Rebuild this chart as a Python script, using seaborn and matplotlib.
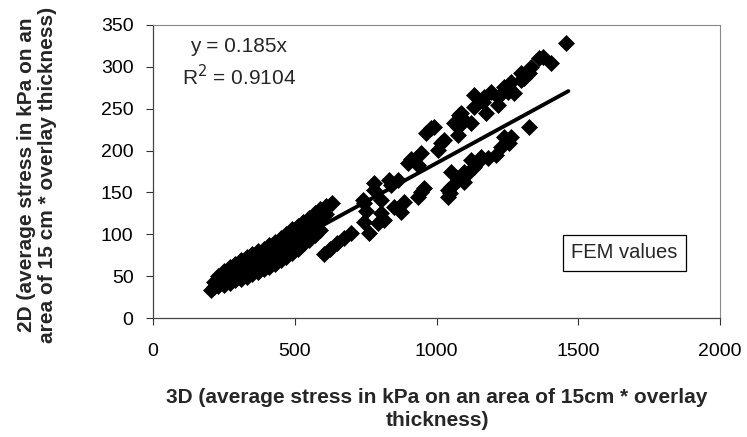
import matplotlib
matplotlib.use("Agg")
import matplotlib.pyplot as plt
import numpy as np
import pandas as pd
import seaborn as sns

# ---- data ----
cluster_x = [205, 215, 215, 230, 230, 230, 250, 250, 250, 270, 270, 270,
             290, 290, 290, 310, 310, 310, 330, 330, 330, 350, 350, 350,
             370, 370, 370, 390, 390, 390, 410, 410, 410, 430, 430, 430,
             450, 450, 450, 470, 470, 470, 490, 490, 490, 510, 510, 510,
             530, 530, 530, 550, 550, 550, 570, 570, 570, 590, 590, 590,
             610, 610, 630]
cluster_y = [34, 37, 43, 38, 45, 50, 40, 48, 56, 42, 52, 61,
             45, 55, 65, 47, 58, 69, 49, 61, 73, 52, 64, 77,
             55, 67, 80, 58, 71, 83, 61, 74, 87, 65, 78, 91,
             69, 82, 95, 73, 87, 100, 78, 92, 106, 83, 97, 110,
             88, 101, 115, 93, 106, 120, 99, 112, 125, 105, 118, 130,
             124, 134, 137]

upper_x = [740, 743, 750, 779, 804, 832, 839, 864, 899, 910, 935, 945, 963, 981,
           991, 1005, 1016, 1027, 1062, 1080, 1076, 1076, 1087, 1097, 1122, 1133,
           1133, 1165, 1168, 1175, 1193, 1218, 1218, 1239, 1253, 1264, 1274, 1299,
           1299, 1310, 1327, 1334, 1363, 1374, 1405, 1458]
upper_y = [141, 137, 128, 161, 141, 165, 159, 165, 185, 190, 183, 197, 221, 227,
           228, 201, 209, 213, 233, 242, 219, 228, 245, 236, 233, 252,
           266, 258, 264, 245, 270, 254, 264, 276, 270, 282, 269, 284,
           293, 287, 293, 300, 311, 312, 305, 328]

lower_x = [602, 625, 648, 672, 697, 743, 761, 779, 793, 814, 804, 850, 874, 885,
           935, 945, 956, 1041, 1048, 1041, 1051, 1051, 1076, 1097, 1097, 1111,
           1122, 1133, 1147, 1158, 1182, 1211, 1228, 1257, 1264, 1239, 1327]
lower_y = [76, 83, 89, 95, 102, 115, 101, 153, 113, 117, 125, 133, 127, 139,
           145, 151, 155, 145, 149, 153, 156, 174, 165, 162, 174, 173,
           189, 180, 186, 192, 191, 195, 204, 209, 216, 216, 228]

trend_slope = 0.185
trend_r2 = 0.9104
trend_x = [200, 1465]

x_ticks = [0, 500, 1000, 1500, 2000]
y_ticks = [0, 50, 100, 150, 200, 250, 300, 350]

xlabel = "3D (average stress in kPa on an area of 15cm * overlay\nthickness)"
ylabel = "2D (average stress in kPa on an\narea of 15 cm * overlay thickness)"
legend_label = "FEM values"

# ---- figure ----
sns.set_theme(style="white")
plt.rcParams["font.family"] = ["Liberation Sans", "DejaVu Sans"]

fig = plt.figure(figsize=(7.47, 4.37), dpi=100)
ax = fig.add_axes([0.2048, 0.2723, 0.9639 - 0.2048, 0.9428 - 0.2723])

pts = pd.DataFrame({
    "x": cluster_x + upper_x + lower_x,
    "y": cluster_y + upper_y + lower_y,
})
sns.scatterplot(data=pts, x="x", y="y", marker="D", s=66, color="black",
                edgecolor="black", linewidth=0.5, ax=ax, zorder=3, legend=False)

trend = pd.DataFrame({"x": trend_x, "y": [trend_slope * v for v in trend_x]})
sns.lineplot(data=trend, x="x", y="y", color="black", linewidth=2.8, ax=ax,
             zorder=4, solid_capstyle="round")

ax.set_xlim(0, 2000)
ax.set_ylim(0, 350)
ax.set_xticks(x_ticks)
ax.set_yticks(y_ticks)
ax.tick_params(axis="both", which="both", direction="out", length=5, width=0.8,
               color="#333333", labelsize=14, labelcolor="black")
ax.tick_params(axis="x", pad=13, bottom=True)
ax.tick_params(axis="y", pad=9, left=True)

for side in ["left", "bottom"]:
    ax.spines[side].set_color("#444444")
    ax.spines[side].set_linewidth(0.9)
for side in ["top", "right"]:
    ax.spines[side].set_color("#888888")
    ax.spines[side].set_linewidth(0.8)

ax.set_xlabel(xlabel, fontsize=15, fontweight="bold", linespacing=1.3,
              va="center")
ax.xaxis.set_label_coords(0.501, -0.31)
ax.set_ylabel(ylabel, fontsize=15, fontweight="bold", linespacing=1.15,
              va="center")
ax.yaxis.set_label_coords(-0.205, 0.488)

ax.text(0.150, 0.928, f"y = {trend_slope}x", transform=ax.transAxes,
        fontsize=15, ha="center", va="center")
ax.text(0.152, 0.824, f"R$^2$ = {trend_r2}", transform=ax.transAxes,
        fontsize=15, ha="center", va="center")

ax.text(0.831, 0.222, legend_label, transform=ax.transAxes, fontsize=14.5,
        ha="center", va="center",
        bbox=dict(boxstyle="square,pad=0.42", fc="white", ec="black", lw=0.9))

fig.savefig("out.png", dpi=100, facecolor="white")
